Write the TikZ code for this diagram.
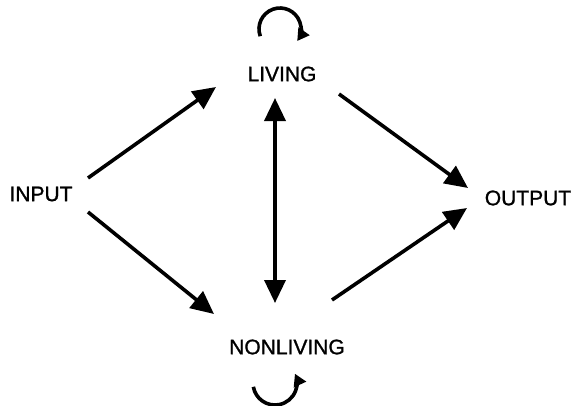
\documentclass[tikz,border=0pt]{standalone}
\usepackage{fontspec}
\setmainfont[FakeBold=1.2]{Liberation Sans}
\usetikzlibrary{arrows.meta}
\begin{document}
\begin{tikzpicture}[x=1pt,y=-1pt,
  lbl/.style={font=\fontsize{21}{24}\selectfont, inner sep=2pt},
  conn/.style={line width=3.6pt, -{Triangle[length=23pt,width=21pt]}},
  dconn/.style={line width=3.6pt, {Triangle[length=23pt,width=21pt]}-{Triangle[length=23pt,width=21pt]}},
  loopy/.style={line width=3.6pt, -{Triangle[length=12pt,width=13pt]}}]
\useasboundingbox (0,0) rectangle (575,405);
\node[lbl] (in) at (41,194) {INPUT};
\node[lbl] (liv) at (282,74) {LIVING};
\node[lbl] (non) at (287,347) {NONLIVING};
\node[lbl] (out) at (528,198) {OUTPUT};
\coordinate (a1s) at (88,178); \coordinate (a1e) at (216,87);
\coordinate (a2s) at (88,212); \coordinate (a2e) at (214,314);
\coordinate (a3s) at (339,94); \coordinate (a3e) at (468,188);
\coordinate (a4s) at (332,300); \coordinate (a4e) at (467,208);
\coordinate (vs) at (275,98); \coordinate (ve) at (275,303);
\draw[conn] (a1s) -- (a1e);
\draw[conn] (a2s) -- (a2e);
\draw[conn] (a3s) -- (a3e);
\draw[conn] (a4s) -- (a4e);
\draw[dconn] (vs) -- (ve);
\coordinate (lc) at (280,29);
\draw[loopy] ([shift={(160:21)}]lc) arc[start angle=160, end angle=395, radius=21];
\coordinate (bc) at (275,383);
\draw[loopy] ([shift={(170:22)}]bc) arc[start angle=170, end angle=-25, radius=22];
\end{tikzpicture}
\end{document}
